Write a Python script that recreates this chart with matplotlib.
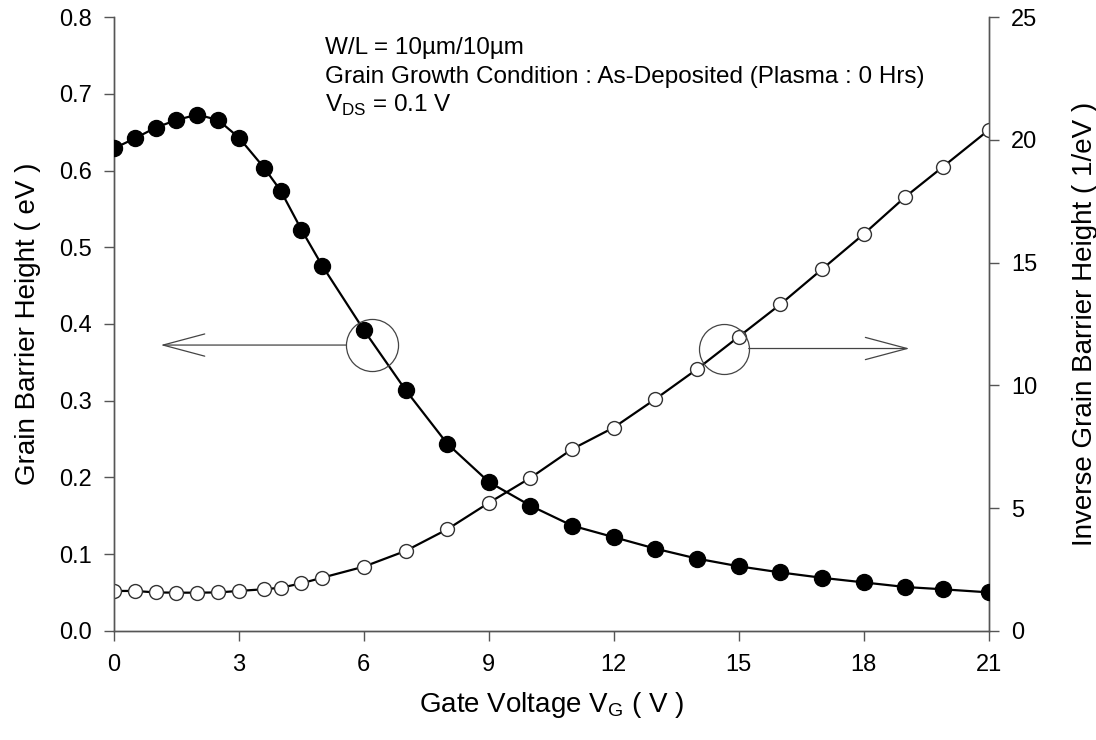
import matplotlib.pyplot as plt

plt.rcParams['font.family'] = ['Liberation Sans', 'DejaVu Sans']

# gate voltage (V)
vg = [0, 0.5, 1.0, 1.5, 2.0, 2.5, 3.0, 3.6, 4.0, 4.5, 5.0, 6.0, 7.0, 8.0, 9.0,
      10.0, 11.0, 12.0, 13.0, 14.0, 15.0, 16.0, 17.0, 18.0, 19.0, 19.9, 21.0]

# grain barrier height (eV)
barrier = [0.629, 0.642, 0.656, 0.666, 0.673, 0.666, 0.643, 0.604, 0.574, 0.523,
           0.476, 0.392, 0.314, 0.244, 0.194, 0.163, 0.137, 0.122, 0.107, 0.094,
           0.084, 0.076, 0.069, 0.063, 0.057, 0.054, 0.050]

# inverse grain barrier height (1/eV)
inv_barrier = [1.62, 1.62, 1.56, 1.55, 1.55, 1.56, 1.62, 1.69, 1.75, 1.93, 2.16,
               2.61, 3.25, 4.13, 5.21, 6.23, 7.40, 8.28, 9.44, 10.66, 11.98,
               13.30, 14.73, 16.16, 17.68, 18.90, 20.40]

xticks = [0, 3, 6, 9, 12, 15, 18, 21]
left_ticks = [0.0, 0.1, 0.2, 0.3, 0.4, 0.5, 0.6, 0.7, 0.8]
right_ticks = [0, 5, 10, 15, 20, 25]

fig = plt.figure(figsize=(10.96, 7.40), dpi=100)
ax = fig.add_axes([0.104, 0.1477, 0.798, 0.829])
ax2 = ax.twinx()

ax.plot(vg, barrier, '-o', color='black', lw=1.6, ms=11.5, mfc='black', mec='black', zorder=3)
ax2.plot(vg, inv_barrier, '-o', color='black', lw=1.6, ms=10, mfc='white', mec='#333333',
         mew=1.0, zorder=3)

ax.set_xlim(0, 21)
ax.set_ylim(0, 0.8)
ax2.set_ylim(0, 25)
ax.set_xticks(xticks)
ax.set_yticks(left_ticks)
ax.set_yticklabels(['%.1f' % t for t in left_ticks])
ax2.set_yticks(right_ticks)

for a in (ax, ax2):
    a.spines['top'].set_visible(False)
    for s in a.spines.values():
        s.set_color('#555555')
        s.set_linewidth(1.0)
    a.tick_params(direction='out', length=7, width=1.0, color='#555555',
                  labelsize=17, pad=9)
ax.tick_params(axis='x', pad=10)
ax.set_zorder(ax2.get_zorder() + 1)
ax.patch.set_visible(False)

ax.set_xlabel('Gate Voltage V$_\\mathregular{G}$ ( V )', fontsize=20, labelpad=10)
ax.set_ylabel('Grain Barrier Height ( eV )', fontsize=20, labelpad=13)
ax2.set_ylabel('Inverse Grain Barrier Height ( 1/eV )', fontsize=20, labelpad=25)

# circles marking each curve with arrows toward its axis
ax.plot([6.2], [0.3725], 'o', ms=37.5, mfc='none', mec='#444444', mew=0.9, zorder=4)
ax.plot([14.64], [0.368], 'o', ms=36, mfc='none', mec='#444444', mew=0.9, zorder=4)
ax.annotate('', xy=(1.12, 0.3725), xytext=(5.57, 0.3725),
            arrowprops=dict(arrowstyle='->,head_length=3.0,head_width=0.8',
                            color='#444444', lw=0.9, shrinkA=0, shrinkB=0))
ax.annotate('', xy=(19.1, 0.368), xytext=(15.24, 0.368),
            arrowprops=dict(arrowstyle='->,head_length=3.0,head_width=0.8',
                            color='#444444', lw=0.9, shrinkA=0, shrinkB=0))

ax.text(5.06, 0.760, 'W/L = 10\u00b5m/10\u00b5m', fontsize=17.5, va='center')
ax.text(5.06, 0.7225, 'Grain Growth Condition : As-Deposited (Plasma : 0 Hrs)', fontsize=17.5, va='center')
ax.text(5.06, 0.685, 'V$_\\mathregular{DS}$ = 0.1 V', fontsize=17.5, va='center')

fig.savefig('out.png', dpi=100)
